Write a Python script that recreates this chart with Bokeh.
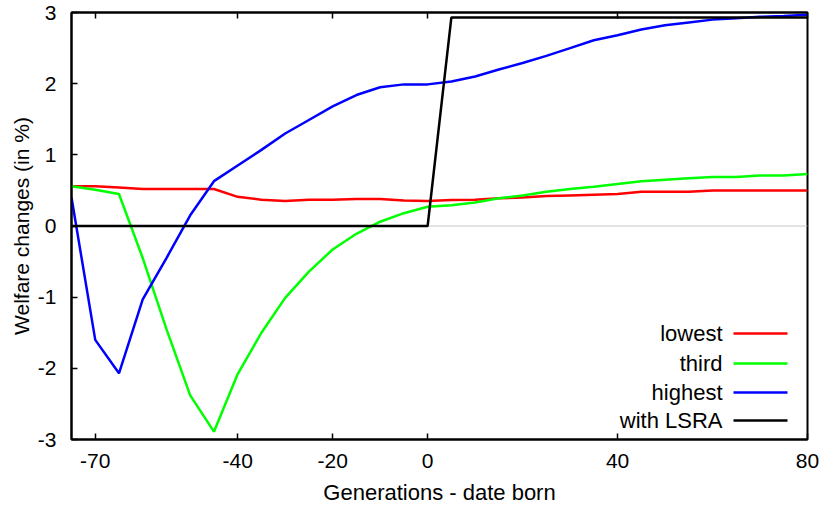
from bokeh.plotting import figure
from bokeh.models import (LinearAxis, FixedTicker, Span, Label, BoxAnnotation,
                          Range1d, ColumnDataSource)
from bokeh.embed import file_html
from bokeh.resources import INLINE

# ---------------- data ----------------
generations = [-75, -70, -65, -60, -55, -50, -45, -40, -35, -30, -25, -20, -15, -10, -5, 0,
               5, 10, 15, 20, 25, 30, 35, 40, 45, 50, 55, 60, 65, 70, 75, 80]
lowest = [0.56, 0.56, 0.54, 0.52, 0.52, 0.52, 0.52, 0.41, 0.37, 0.35, 0.37, 0.37, 0.38, 0.38,
          0.36, 0.35, 0.365, 0.37, 0.39, 0.40, 0.42, 0.43, 0.44, 0.45, 0.48, 0.48, 0.48, 0.50,
          0.50, 0.50, 0.50, 0.50]
third = [0.56, 0.51, 0.45, -0.45, -1.45, -2.38, -2.89, -2.08, -1.50, -1.01, -0.64, -0.33, -0.11,
         0.06, 0.18, 0.27, 0.29, 0.33, 0.39, 0.43, 0.48, 0.52, 0.55, 0.59, 0.63, 0.65, 0.67,
         0.69, 0.69, 0.71, 0.71, 0.73]
highest = [0.40, -1.60, -2.07, -1.03, -0.45, 0.15, 0.63, 0.85, 1.07, 1.30, 1.49, 1.68, 1.84,
           1.95, 1.99, 1.99, 2.03, 2.10, 2.20, 2.29, 2.39, 2.50, 2.61, 2.68, 2.76, 2.82, 2.86,
           2.90, 2.92, 2.94, 2.95, 2.97]
lsra_x = [-75, 0, 5, 80]
lsra_y = [0.0, 0.0, 2.93, 2.93]

x_ticks = [-70, -40, -20, 0, 40, 80]
y_ticks = [-3, -2, -1, 0, 1, 2, 3]

series_names = ["lowest", "third", "highest", "with LSRA"]
series_colors = ["#ff0000", "#00ff00", "#0000ff", "#000000"]

# ---------------- figure ----------------
FONT = "Liberation Sans"
p = figure(width=820, height=507, output_backend="svg", toolbar_location=None,
           x_range=Range1d(-75, 80), y_range=Range1d(-3, 3),
           min_border_left=71, min_border_right=13, min_border_top=12, min_border_bottom=67)
p.background_fill_color = "white"
p.border_fill_color = "white"
p.grid.visible = False
p.outline_line_color = "black"
p.outline_line_width = 2

p.add_layout(Span(location=0, dimension="width", line_color="#c8c8c8", line_width=1,
                  level="underlay"))

src = ColumnDataSource(dict(x=generations, lowest=lowest, third=third, highest=highest))
p.line("x", "lowest", source=src, line_color=series_colors[0], line_width=2.5)
p.line("x", "third", source=src, line_color=series_colors[1], line_width=2.5)
p.line("x", "highest", source=src, line_color=series_colors[2], line_width=2.5)
p.line(lsra_x, lsra_y, line_color=series_colors[3], line_width=2.5)

for ax in (p.xaxis[0], p.yaxis[0]):
    ax.axis_line_color = "black"
    ax.axis_line_width = 2
    ax.major_tick_in = 6
    ax.major_tick_out = 0
    ax.minor_tick_in = 0
    ax.minor_tick_out = 0
    ax.major_tick_line_width = 1.5
    ax.major_label_text_font = FONT
    ax.major_label_text_font_size = "21px"
    ax.major_label_text_color = "black"
    ax.axis_label_text_font = FONT
    ax.axis_label_text_font_style = "normal"
    ax.axis_label_text_color = "black"

p.xaxis[0].axis_label_text_font_size = "22px"
p.yaxis[0].axis_label_text_font_size = "21px"
p.xaxis[0].ticker = FixedTicker(ticks=x_ticks)
p.yaxis[0].ticker = FixedTicker(ticks=y_ticks)
p.xaxis[0].major_label_overrides = {t: str(t) for t in x_ticks}
p.yaxis[0].major_label_overrides = {t: str(t) for t in y_ticks}
p.xaxis[0].axis_label = "Generations - date born"
p.yaxis[0].axis_label = "Welfare changes (in %)"
p.xaxis[0].major_label_standoff = 14
p.yaxis[0].major_label_standoff = 15
p.xaxis[0].axis_label_standoff = 9
p.yaxis[0].axis_label_standoff = 2

top = LinearAxis(ticker=FixedTicker(ticks=x_ticks), major_label_text_font_size="0px",
                 major_tick_in=6, major_tick_out=0, minor_tick_in=0, minor_tick_out=0,
                 axis_line_color="black", axis_line_width=2, major_tick_line_width=1.5)
top.major_label_text_alpha = 0
p.add_layout(top, "above")

# ---------------- legend (text right-aligned, sample line on the right) ----------------
row_y = [106, 76, 47, 19]
for name, color, yy in zip(series_names, series_colors, row_y):
    p.add_layout(Label(x=651, y=yy, x_units="screen", y_units="screen", text=name,
                       text_align="right", text_baseline="middle", text_font=FONT,
                       text_font_size="22px", text_color="black"))
    p.add_layout(BoxAnnotation(left=662, right=716, bottom=yy - 1.25, top=yy + 1.25,
                               left_units="screen", right_units="screen",
                               bottom_units="screen", top_units="screen",
                               fill_color=color, fill_alpha=1, line_alpha=0))

open("out.html", "w").write(file_html(p, INLINE))
